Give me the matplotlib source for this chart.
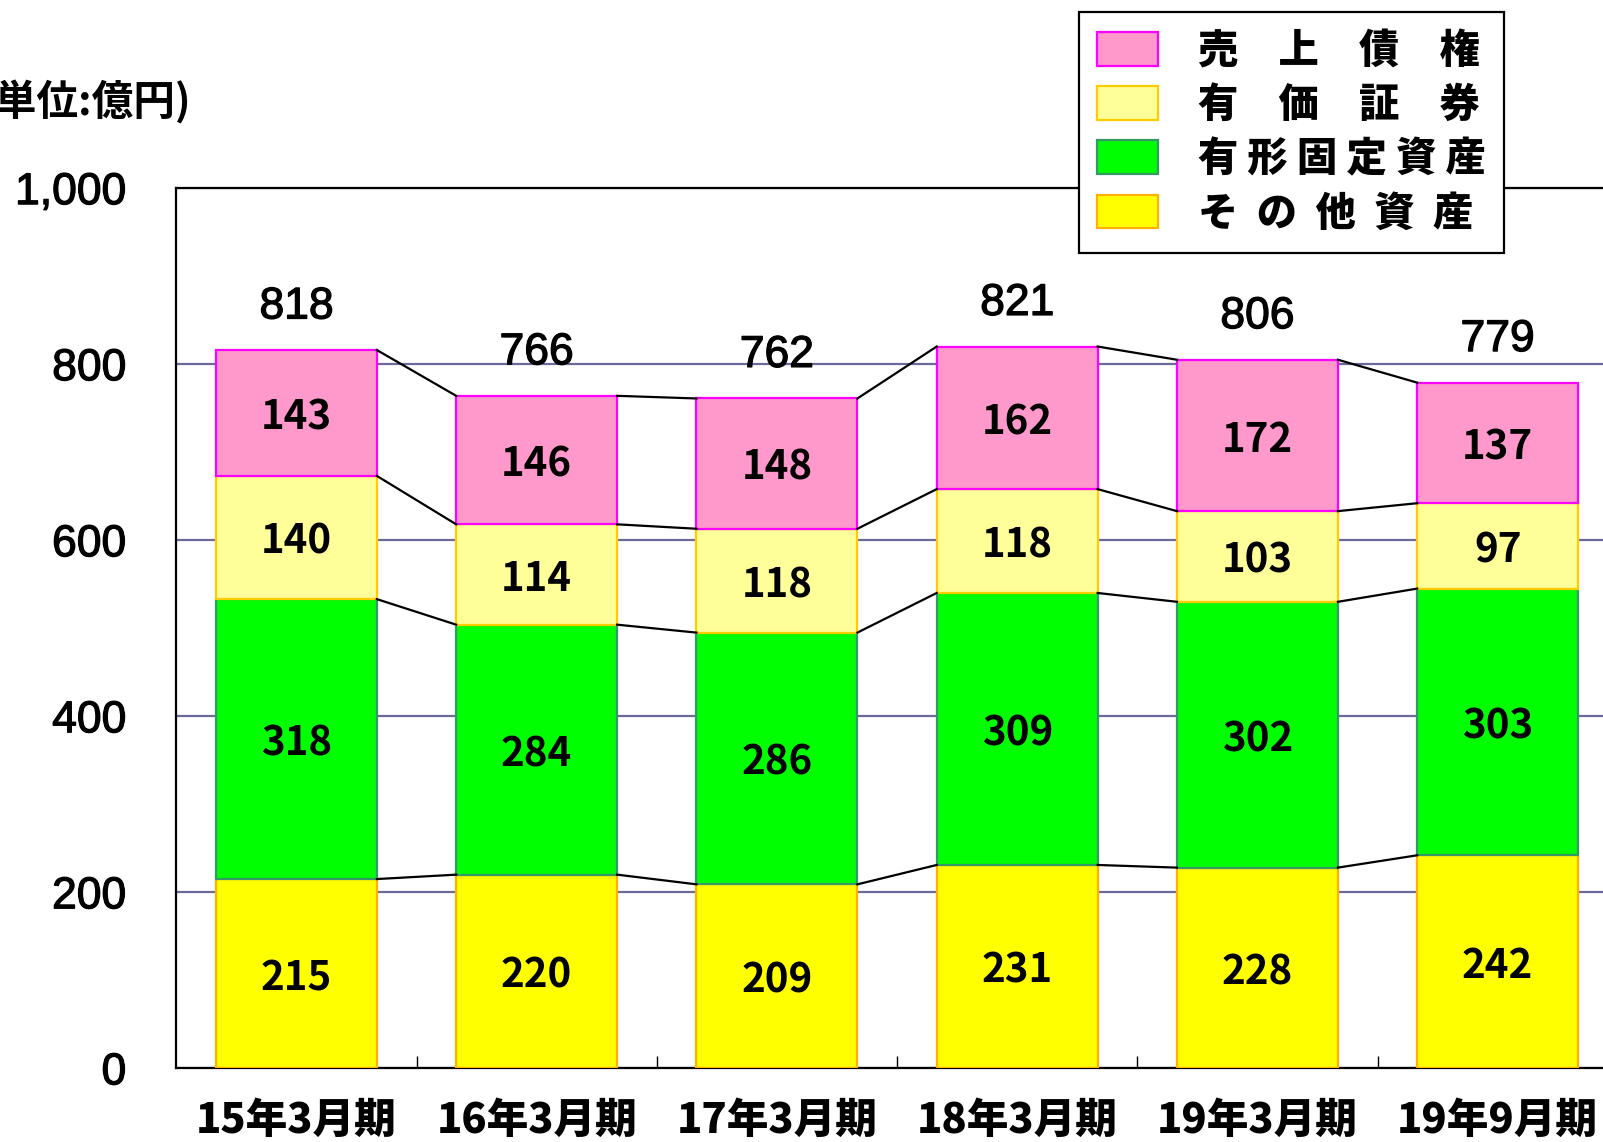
import matplotlib.pyplot as plt
import matplotlib.patheffects as pe
from matplotlib.patches import Patch
from matplotlib.font_manager import FontProperties

plt.rcParams['font.family'] = ['Noto Sans CJK JP', 'DejaVu Sans']

periods = ['15年3月期', '16年3月期', '17年3月期', '18年3月期', '19年3月期', '19年9月期']
other_assets = [215, 220, 209, 231, 228, 242]
fixed_assets = [318, 284, 286, 309, 302, 303]
securities = [140, 114, 118, 118, 103, 97]
receivables = [143, 146, 148, 162, 172, 137]
totals = [818, 766, 762, 821, 806, 779]

series = [
    ('そ  の  他  資  産', other_assets, '#FFFF00', '#FFB000'),
    ('有 形 固 定 資 産', fixed_assets, '#00FF00', '#339966'),
    ('有　価　証　券', securities, '#FFFF99', '#FFCC00'),
    ('売　上　債　権', receivables, '#FF99CC', '#FF00FF'),
]

W, H = 1603, 1142
fig = plt.figure(figsize=(W / 100, H / 100), dpi=100)
ax = fig.add_axes([176.3 / W, 1 - 1068.3 / H, (1617.8 - 176.3) / W, (1068.3 - 188.1) / H])
thick = [pe.withStroke(linewidth=0.9, foreground='black')]

x = list(range(len(periods)))
bw = 0.67
bottom = [0] * len(x)
levels = []
for name, vals, fc, ec in series:
    ax.bar(x, vals, bw, bottom=bottom, color=fc, edgecolor=ec, linewidth=1.6, zorder=3)
    for i, v in enumerate(vals):
        ax.annotate(str(v), (i, bottom[i] + v / 2), xytext=(0, -3.5), textcoords='offset points',
                    ha='center', va='center', fontsize=29, fontweight='bold', zorder=4)
    bottom = [b + v for b, v in zip(bottom, vals)]
    levels.append(list(bottom))

# connector lines between neighbouring bars
for lv in levels:
    for i in range(len(x) - 1):
        ax.plot([i + bw / 2, i + 1 - bw / 2], [lv[i], lv[i + 1]], color='black', lw=1.6, zorder=3)

for i, t in enumerate(totals):
    ax.annotate(str(t), (i, levels[-1][i]), xytext=(0, 31), textcoords='offset points',
                ha='center', va='center', fontsize=32, family='Liberation Sans',
                path_effects=thick)

ax.set_xlim(-0.5, 5.5)
ax.set_ylim(0, 1000)
ax.set_yticks(range(0, 1001, 200))
ax.set_yticklabels([f'{v:,}' for v in range(0, 1001, 200)], family='Liberation Sans', fontsize=32)
for lab in ax.get_yticklabels():
    lab.set_path_effects(thick)
ax.tick_params(axis='y', length=0, pad=36)
ax.set_xticks(x)
ax.set_xticklabels(periods, fontsize=30, fontweight='heavy')
ax.tick_params(axis='x', length=0, pad=23)
ax.set_xticks([i + 0.5 for i in x[:-1]], minor=True)
ax.tick_params(axis='x', which='minor', direction='in', length=8.5, width=1)
ax.yaxis.grid(True, color='#6B6B9B', lw=1.6, zorder=1)
ax.set_axisbelow(True)
for s in ax.spines.values():
    s.set_color('black')
    s.set_linewidth(1.6)

handles = [Patch(facecolor=fc, edgecolor=ec, linewidth=1.6, label=name)
           for name, vals, fc, ec in series[::-1]]
leg = ax.legend(handles=handles, loc='upper left',
                bbox_to_anchor=(1079 / W, 1 - 12 / H), bbox_transform=fig.transFigure,
                prop=FontProperties(family='Noto Sans CJK JP', weight='heavy', size=29),
                handlelength=1.5, handleheight=0.92, handletextpad=1.0,
                borderpad=0.45, labelspacing=0.3, borderaxespad=0,
                fancybox=False, framealpha=1, edgecolor='black')
leg.get_frame().set_linewidth(1.6)
leg.set_zorder(10)

fig.text(191 / W, 1 - 102 / H, '(単位:億円)', ha='right', va='center',
         fontsize=30, fontweight='bold')

fig.savefig('out.png', dpi=100)
